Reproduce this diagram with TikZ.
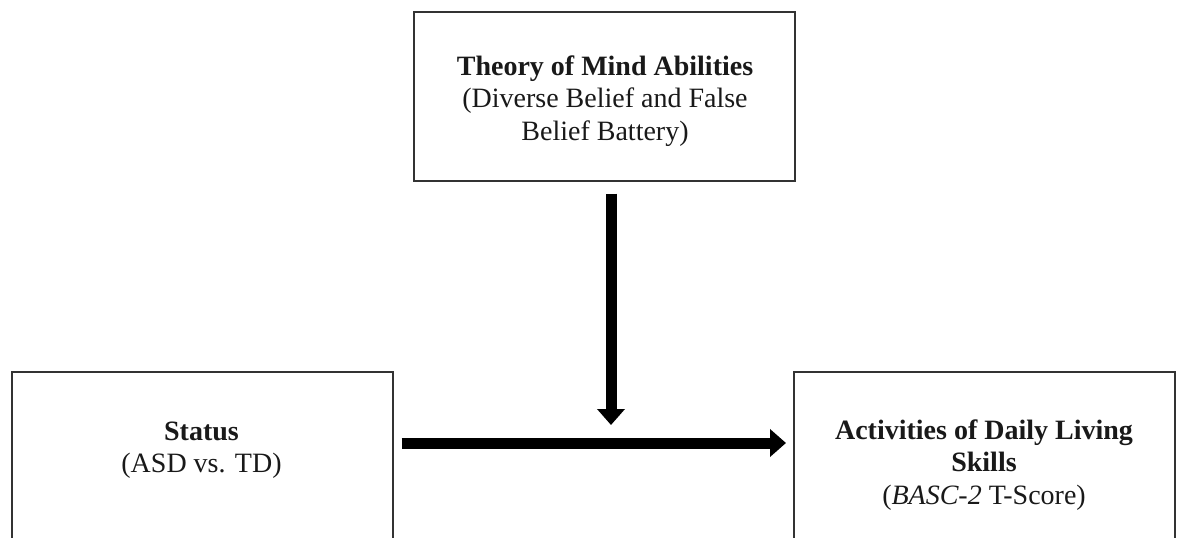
\documentclass[tikz,border=0pt]{standalone}
\usepackage{fontspec}
\setmainfont{Liberation Serif}
\usetikzlibrary{arrows.meta}
\begin{document}
\begin{tikzpicture}[x=1pt,y=-1pt,
  frame/.style={draw=black!80, line width=1.6pt, fill=white, inner sep=0pt,
    minimum width=381pt, anchor=north west},
  label/.style={align=center, font=\fontsize{28}{32.5}\selectfont, text=black!90, inner sep=0pt},
  bigarrow/.style={line width=11pt, -{Triangle[width=27pt,length=16pt]}, black}
]
\useasboundingbox (0,0) rectangle (1181,538);
\fill[white] (0,0) rectangle (1181,538);
\begin{scope}
\clip (0,0) rectangle (1181,538);
% three boxes (the lower two run past the bottom edge)
\node (tombox) [frame, minimum height=169pt] at (413,11) {};
\node (statbox) [frame, minimum height=200pt] at (11,371) {};
\node (adlbox) [frame, minimum height=200pt] at (793,371) {};
\end{scope}
% box texts
\node (tom) [label] at (605,101) {\textbf{Theory of Mind Abilities}\\(Diverse Belief and False\\Belief Battery)};
\node (stat) [label] at (201.5,450) {\textbf{Status}\\(ASD vs. TD)};
\node (adl) [label] at (984,465) {\textbf{Activities of Daily Living}\\\textbf{Skills}\\(\textit{BASC-2} T-Score)};
% arrows
\coordinate (meet) at (611,443);
\draw[bigarrow, shorten <=8pt, shorten >=7pt] (statbox.east |- meet) -- (adlbox.west |- meet);
\draw[bigarrow, shorten <=12pt, shorten >=18pt] (meet |- tombox.south) -- (meet);
\end{tikzpicture}
\end{document}
